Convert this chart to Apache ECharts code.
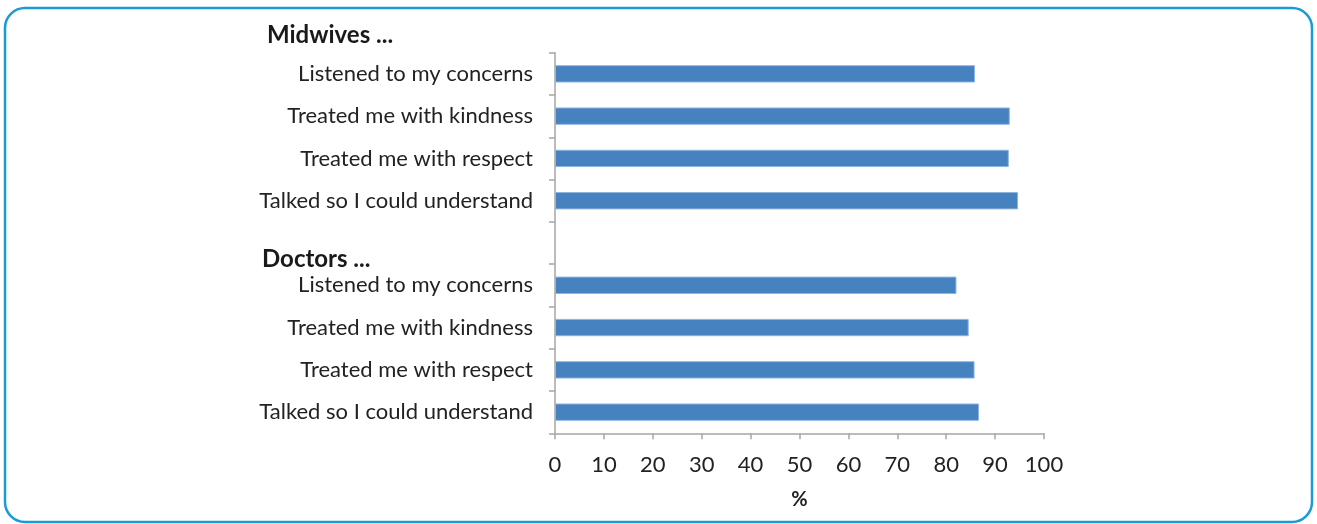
<!DOCTYPE html>
<html>
<head>
<meta charset="utf-8">
<script src="https://cdn.jsdelivr.net/npm/echarts@6/dist/echarts.min.js"></script>
<style>
html,body{margin:0;padding:0;background:#fff;}
#chart{width:1317px;height:524px;}
</style>
</head>
<body>
<div id="chart"></div>
<script>
// Data
var categories = [
  'Listened to my concerns',
  'Treated me with kindness',
  'Treated me with respect',
  'Talked so I could understand',
  '',
  'Listened to my concerns',
  'Treated me with kindness',
  'Treated me with respect',
  'Talked so I could understand'
];
var values = [85.9, 93.0, 92.8, 94.7, null, 82.1, 84.6, 85.8, 86.7];
var groupHeaders = ['Midwives ...', 'Doctors ...'];
var xTicks = [0, 10, 20, 30, 40, 50, 60, 70, 80, 90, 100];
var xAxisName = '%';

var FONT = 'Lato';
var chart = echarts.init(document.getElementById('chart'), null, {renderer: 'canvas'});
var option = {
  animation: false,
  backgroundColor: '#ffffff',
  grid: {left: 555, right: 273, top: 52.7, bottom: 90.7, containLabel: false},
  xAxis: {
    type: 'value',
    min: xTicks[0],
    max: xTicks[xTicks.length - 1],
    interval: xTicks[1] - xTicks[0],
    name: xAxisName,
    nameLocation: 'middle',
    nameGap: 56,
    nameTextStyle: {fontFamily: FONT, fontSize: 20, fontWeight: 'bold', color: '#222'},
    axisLine: {show: true, lineStyle: {color: '#a6a6a6', width: 1.5}},
    axisTick: {show: true, length: 6, lineStyle: {color: '#a6a6a6', width: 1.5}},
    axisLabel: {fontFamily: FONT, fontSize: 22, color: '#222', margin: 21},
    splitLine: {show: false}
  },
  yAxis: {
    type: 'category',
    data: categories,
    inverse: true,
    axisLine: {show: true, lineStyle: {color: '#a6a6a6', width: 1.5}},
    axisTick: {show: true, length: 6, lineStyle: {color: '#a6a6a6', width: 1.5}},
    axisLabel: {fontFamily: FONT, fontSize: 22, color: '#222', margin: 22}
  },
  series: [{
    type: 'bar',
    data: values,
    barWidth: '41%',
    itemStyle: {color: '#4681c0', borderColor: '#8fb4de', borderWidth: 1}
  }],
  graphic: [
    {type: 'rect', shape: {x: 5, y: 8, width: 1307, height: 514, r: 20},
     style: {fill: 'none', stroke: '#1a9ad7', lineWidth: 2.5}, z: 100},
    {type: 'text', left: 267, top: 23, style: {text: groupHeaders[0], font: 'bold 24px ' + FONT, fill: '#1a1a1a'}},
    {type: 'text', left: 262, top: 247, style: {text: groupHeaders[1], font: 'bold 24px ' + FONT, fill: '#1a1a1a'}}
  ]
};
chart.setOption(option);
</script>
</body>
</html>
